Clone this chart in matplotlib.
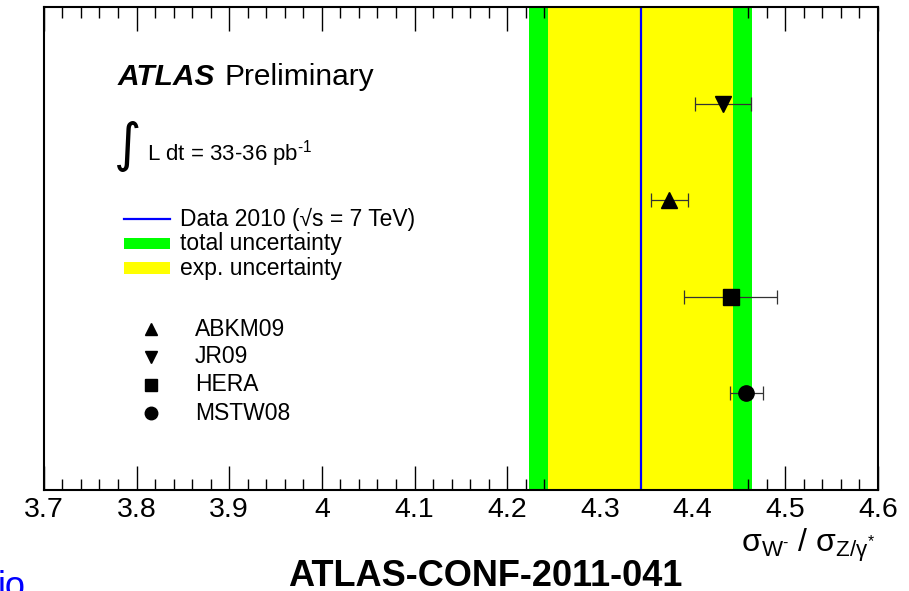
import matplotlib
matplotlib.use('Agg')
import matplotlib.pyplot as plt
from matplotlib.patches import Rectangle

plt.rcParams['font.family'] = ['Liberation Sans', 'DejaVu Sans']
plt.rcParams['mathtext.fontset'] = 'custom'
plt.rcParams['mathtext.rm'] = 'Liberation Sans'
plt.rcParams['mathtext.it'] = 'Liberation Sans'
plt.rcParams['mathtext.bf'] = 'Liberation Sans:bold'
plt.rcParams['mathtext.default'] = 'regular'

# measured ratio sigma(W-)/sigma(Z)
data_value = 4.344
exp_unc = 0.100
tot_unc = 0.120

# NNLO predictions, top to bottom
pdf_names = ['JR09', 'ABKM09', 'HERA', 'MSTW08']
pdf_values = [4.433, 4.375, 4.441, 4.458]
pdf_errors = [0.030, 0.020, 0.050, 0.018]
pdf_markers = {'ABKM09': '^', 'JR09': 'v', 'HERA': 's', 'MSTW08': 'o'}
legend_order = ['ABKM09', 'JR09', 'HERA', 'MSTW08']

x_ticks = [3.7, 3.8, 3.9, 4.0, 4.1, 4.2, 4.3, 4.4, 4.5, 4.6]
x_ticklabels = ['3.7', '3.8', '3.9', '4', '4.1', '4.2', '4.3', '4.4', '4.5', '4.6']

GREEN = '#00ff00'
YELLOW = '#ffff00'

fig = plt.figure(figsize=(9.09, 5.91), dpi=100)
ax = fig.add_axes([0.0482, 0.1709, 0.9177, 0.8173])

# bands
ax.axvspan(data_value - tot_unc, data_value + tot_unc, color=GREEN, lw=0, zorder=1)
ax.axvspan(data_value - exp_unc, data_value + exp_unc, color=YELLOW, lw=0, zorder=2)
ax.axvline(data_value, color='blue', lw=1.6, zorder=3)

n = len(pdf_names)
for i, (name, val, err) in enumerate(zip(pdf_names, pdf_values, pdf_errors)):
    ypos = n - i
    ax.errorbar(val, ypos, xerr=err, fmt='none', ecolor='#333333',
                elinewidth=0.9, capsize=5, capthick=0.9, zorder=4)
    ax.plot(val, ypos, marker=pdf_markers[name], color='black', ms=11,
            ls='none', zorder=5)

ax.set_xlim(3.7, 4.6)
ax.set_ylim(0, 5)
ax.set_xticks(x_ticks)
ax.set_xticklabels(x_ticklabels, fontsize=20.5)
ax.set_xticks([3.7 + 0.02 * k for k in range(46)], minor=True)
ax.set_yticks([])
ax.tick_params(axis='x', which='major', direction='in', length=17, width=1,
               top=True, bottom=True, pad=5)
ax.tick_params(axis='x', which='minor', direction='in', length=8, width=1,
               top=True, bottom=True)
for sp in ax.spines.values():
    sp.set_linewidth(1.5)
    sp.set_zorder(6)

# header texts
ax.text(0.0879, 0.8385, 'ATLAS', transform=ax.transAxes, fontsize=21.5,
        fontweight='bold', style='italic', va='baseline')
ax.text(0.2172, 0.8385, 'Preliminary', transform=ax.transAxes, fontsize=21.5,
        va='baseline')
ax.text(0.1005, 0.712, '\u222b', transform=ax.transAxes, fontsize=38,
        va='center', ha='center', family=['DejaVu Sans'])
ax.text(0.124, 0.683, r'L dt = 33-36 pb$^{\text{-}1}$', transform=ax.transAxes,
        fontsize=16, va='baseline')

# legend for bands
ax.plot([0.096, 0.151], [0.561, 0.561], color='blue', lw=1.6,
        transform=ax.transAxes, clip_on=False, zorder=7)
ax.add_patch(Rectangle((0.096, 0.4996), 0.055, 0.0228, transform=ax.transAxes,
                       color=GREEN, lw=0, zorder=7))
ax.add_patch(Rectangle((0.096, 0.4482), 0.055, 0.0228, transform=ax.transAxes,
                       color=YELLOW, lw=0, zorder=7))
band_labels = ['Data 2010 (\u221as = 7 TeV)', 'total uncertainty', 'exp. uncertainty']
for lab, yl in zip(band_labels, [0.561, 0.511, 0.4596]):
    ax.text(0.163, yl, lab, transform=ax.transAxes, fontsize=16.5, va='center')

# legend for predictions
for name, yl in zip(legend_order, [0.3333, 0.2754, 0.2174, 0.1594]):
    ax.plot(0.1286, yl, marker=pdf_markers[name], color='black', ms=9,
            transform=ax.transAxes, clip_on=False, zorder=7)
    ax.text(0.181, yl, name, transform=ax.transAxes, fontsize=16.5, va='center')

# axis title
fig.text(0.963, 0.078, r'$\sigma_{W^{\text{-}}}$ / $\sigma_{Z/\gamma^{*}}$',
         fontsize=23, ha='right', va='center')

fig.text(0.5336, 0.009, 'ATLAS-CONF-2011-041', fontsize=26,
         fontweight='bold', ha='center', va='baseline')
fig.text(-0.003, -0.01, 'io', color='blue', fontsize=26, va='baseline')

fig.savefig('out.png', dpi=100)
